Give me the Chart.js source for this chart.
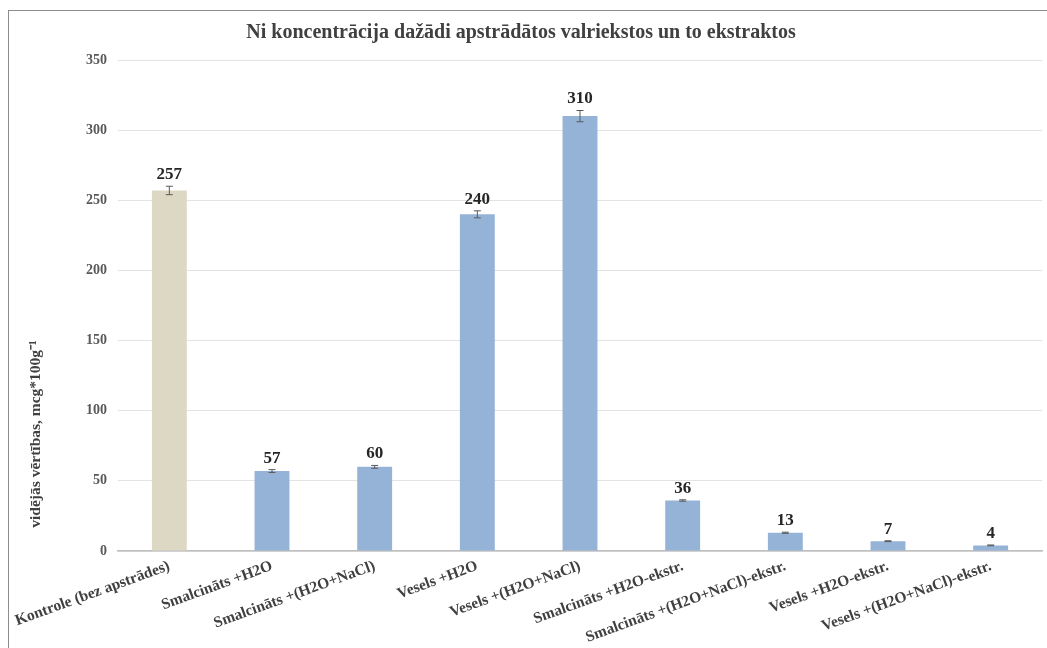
<!DOCTYPE html>
<html>
<head>
<meta charset="utf-8">
<script src="https://cdn.jsdelivr.net/npm/chart.js@4.4.1/dist/chart.umd.min.js"></script>
<style>
  html, body { margin: 0; padding: 0; background: #ffffff; }
  #wrap { position: relative; width: 1047px; height: 648px; overflow: hidden; }
  #frame { position: absolute; left: 8px; top: 10px; width: 1060px; height: 660px; border: 1.5px solid #8c8c8c; box-sizing: border-box; pointer-events: none; }
  canvas { position: absolute; left: 0; top: 0; }
</style>
</head>
<body>
<div id="wrap">
  <canvas id="c" width="1047" height="648"></canvas>
  <div id="frame"></div>
</div>
<script>
const categories = [
  "Kontrole (bez apstrādes)",
  "Smalcināts +H2O",
  "Smalcināts +(H2O+NaCl)",
  "Vesels +H2O",
  "Vesels +(H2O+NaCl)",
  "Smalcināts +H2O-ekstr.",
  "Smalcināts +(H2O+NaCl)-ekstr.",
  "Vesels +H2O-ekstr.",
  "Vesels +(H2O+NaCl)-ekstr."
];
const values = [257, 57, 60, 240, 310, 36, 13, 7, 4];
const errors = [3, 1, 1, 2.5, 4, 0.5, 0.4, 0.3, 0.3];
const barColors = ["#ddd8c4", "#95b3d7", "#95b3d7", "#95b3d7", "#95b3d7", "#95b3d7", "#95b3d7", "#95b3d7", "#95b3d7"];
const yTicks = [0, 50, 100, 150, 200, 250, 300, 350];
const titleText = "Ni koncentrācija dažādi apstrādātos valriekstos un to ekstraktos";
const yAxisTitle = "vidējās vērtības, mcg*100g⁻¹";

const FONT = "'Liberation Serif', 'Times New Roman', serif";

const errorBarsAndLabels = {
  id: 'errorBarsAndLabels',
  afterDatasetsDraw(chart) {
    const ctx = chart.ctx;
    const meta = chart.getDatasetMeta(0);
    const y = chart.scales.y;
    ctx.save();
    meta.data.forEach((bar, i) => {
      const x = bar.x;
      const yTop = y.getPixelForValue(values[i] + errors[i]);
      const yBot = y.getPixelForValue(values[i] - errors[i]);
      ctx.strokeStyle = '#595959';
      ctx.lineWidth = 1;
      ctx.beginPath();
      ctx.moveTo(x, yTop); ctx.lineTo(x, yBot);
      ctx.moveTo(x - 3.5, yTop); ctx.lineTo(x + 3.5, yTop);
      ctx.moveTo(x - 3.5, yBot); ctx.lineTo(x + 3.5, yBot);
      ctx.stroke();
      ctx.fillStyle = '#262626';
      ctx.font = "bold 17px " + FONT;
      ctx.textAlign = 'center';
      ctx.textBaseline = 'bottom';
      ctx.fillText(String(values[i]), x, yTop - 3);
    });
    // y axis title
    ctx.translate(36, 434);
    ctx.rotate(-Math.PI / 2);
    ctx.fillStyle = '#404040';
    ctx.font = "bold 15.5px " + FONT;
    ctx.textAlign = 'center';
    ctx.textBaseline = 'middle';
    ctx.fillText(yAxisTitle, 0, 0);
    ctx.restore();
  }
};

new Chart(document.getElementById('c'), {
  type: 'bar',
  data: {
    labels: categories,
    datasets: [{
      data: values,
      backgroundColor: barColors,
      borderWidth: 0,
      barPercentage: 0.34,
      categoryPercentage: 1.0
    }]
  },
  options: {
    responsive: false,
    animation: false,
    devicePixelRatio: 1,
    layout: { padding: { left: 0, right: 5, top: 0, bottom: 0 } },
    plugins: {
      legend: { display: false },
      tooltip: { enabled: false },
      title: {
        display: true,
        text: titleText,
        color: '#404040',
        font: { family: FONT, size: 20, weight: 'bold' },
        padding: { top: 21, bottom: 15 }
      }
    },
    scales: {
      x: {
        grid: { display: false, drawTicks: false },
        border: { display: true, color: '#bfbfbf', width: 1.5 },
        ticks: {
          autoSkip: false,
          minRotation: 20,
          maxRotation: 20,
          color: '#404040',
          padding: 6,
          font: { family: FONT, size: 15.5, weight: 'bold' }
        },
        afterFit(scale) { scale.height = 97; }
      },
      y: {
        min: 0,
        max: 350,
        afterBuildTicks(scale) { scale.ticks = yTicks.map(v => ({ value: v })); },
        grid: { color: '#e3e3e3', lineWidth: 1, drawTicks: false },
        border: { display: false },
        ticks: {
          color: '#595959',
          padding: 11,
          font: { family: FONT, size: 14, weight: 'bold' }
        },
        afterFit(scale) { scale.width = 118; }
      }
    }
  },
  plugins: [errorBarsAndLabels]
});
</script>
</body>
</html>
